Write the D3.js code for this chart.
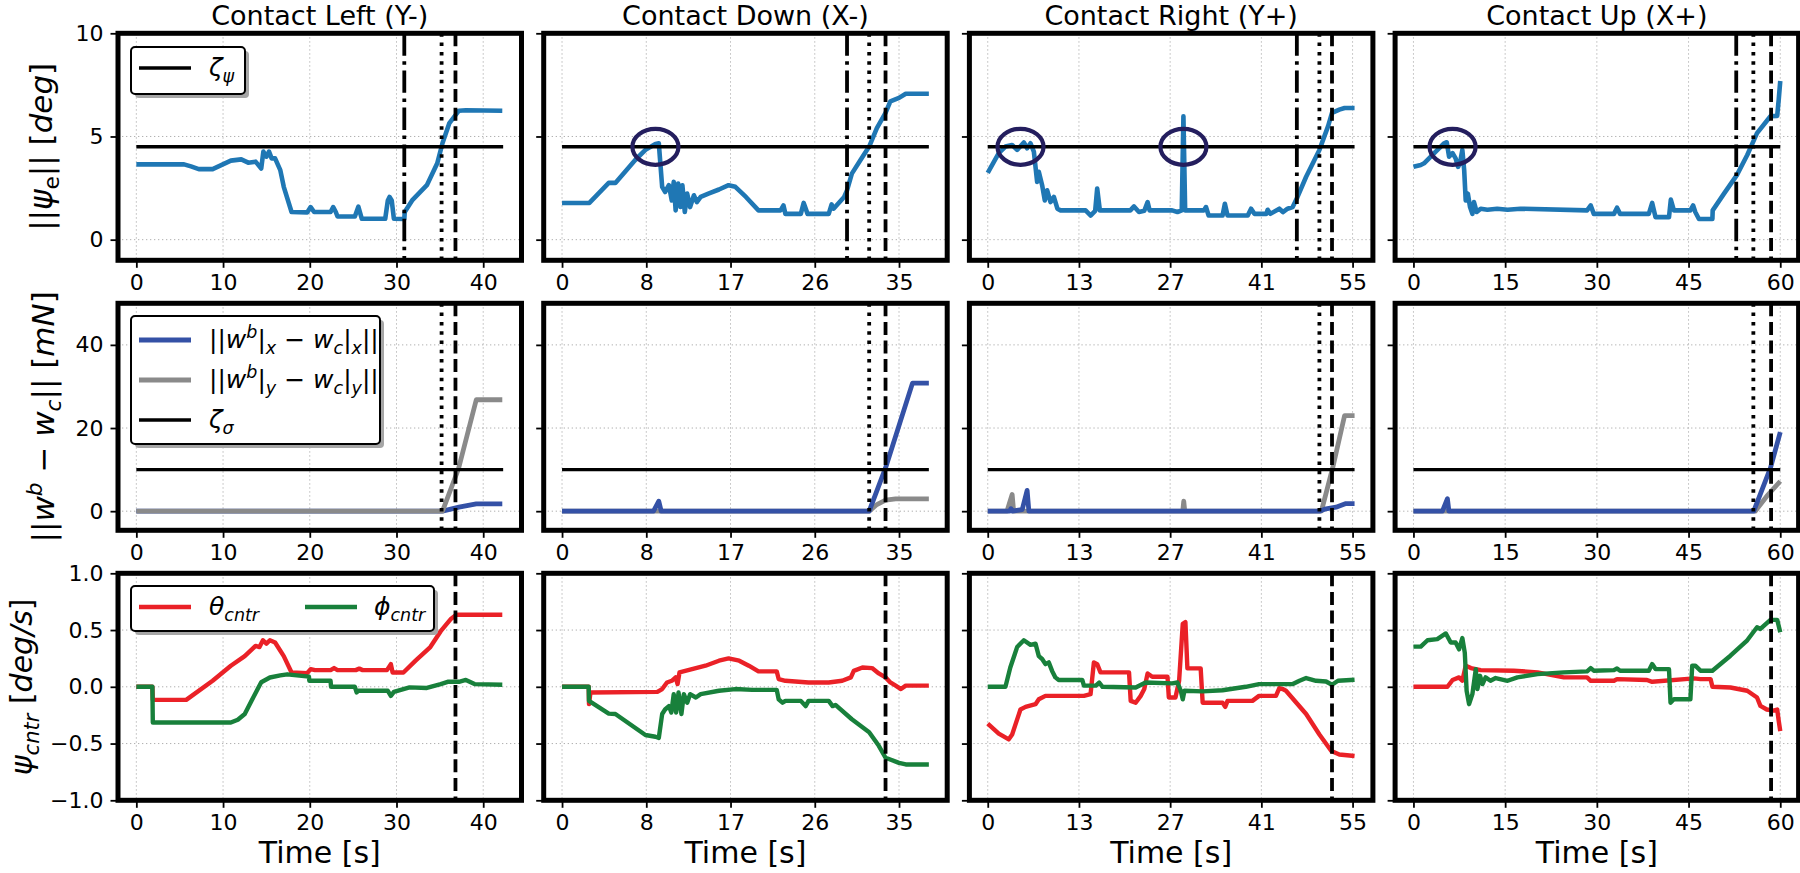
<!DOCTYPE html>
<html><head><meta charset="utf-8">
<script src="https://cdnjs.cloudflare.com/ajax/libs/d3/7.8.5/d3.min.js"></script>
<style>body{margin:0;background:#fff}svg{display:block}text{font-family:'DejaVu Sans',sans-serif}</style>
</head><body><svg id="c" width="1800" height="873"></svg>
<script>
// ---------------- DATA ----------------
const titles = ["Contact Left (Y-)", "Contact Down (X-)", "Contact Right (Y+)", "Contact Up (X+)"];
const tEnd = [42.3, 38.1, 55.3, 60];
const xTickVals = [[0,10,20,30,40],[0,8.75,17.5,26.25,35],[0,13.75,27.5,41.25,55],[0,15,30,45,60]];
const row1Ticks = [0,5,10], row2Ticks = [0,20,40], row3Ticks = [-1,-0.5,0,0.5,1];
const evDashDot = [30.9, 29.6, 46.6, 52.8];
const evDotted  = [35.2, 31.9, 50.0, 55.6];
const evDashed  = [36.8, 33.6, 51.9, 58.5];
const zetaPsi = 4.5, zetaSigma = 10;
const circleMarks = [[], [[9.7,4.5]], [[4.94,4.5],[29.5,4.5]], [[6.4,4.5]]];

// ||psi_e|| [deg]
const psiLeft = [[0,3.65],[5.5,3.65],[6.3,3.55],[7.2,3.42],[8.8,3.42],[10.9,3.83],[12.1,3.89],[12.9,3.73],[13.75,3.78],[14.4,3.45],[14.65,4.27],[15.0,4.02],[15.3,4.27],[15.6,3.94],[16.0,3.94],[16.6,3.37],[17.0,2.56],[17.9,1.34],[19.7,1.32],[20.1,1.58],[20.5,1.34],[22.4,1.34],[22.7,1.58],[23.0,1.34],[23.2,1.12],[25.2,1.12],[25.6,1.6],[26.0,1.01],[28.7,1.01],[29.0,1.9],[29.2,2.07],[29.45,1.9],[29.7,1.01],[30.9,1.0],[30.95,1.34],[31.8,1.9],[33.5,2.64],[34.7,3.7],[35.3,4.67],[36.1,5.65],[37.2,6.25],[38,6.27],[42.2,6.25]];
const psiDown = [[0,1.78],[2.84,1.78],[4.85,2.75],[5.54,2.75],[7.6,3.86],[8.66,4.35],[9.7,4.64],[10.05,4.67],[10.4,2.56],[10.7,2.31],[11.1,2.64],[11.4,1.9],[11.6,2.8],[11.8,1.42],[12.06,2.72],[12.3,1.58],[12.5,2.64],[12.75,1.34],[13.0,2.23],[13.3,1.58],[13.7,2.15],[14.0,1.82],[14.4,2.07],[15.2,2.23],[16.3,2.43],[17.3,2.64],[18.0,2.56],[19.1,2.07],[20.4,1.42],[22.7,1.42],[23.0,1.66],[23.2,1.25],[24.8,1.25],[25.1,1.78],[25.5,1.25],[27.7,1.25],[28.0,1.71],[28.2,1.5],[29.3,2.07],[29.6,2.39],[30.1,3.2],[31.0,3.86],[31.9,4.51],[32.7,5.4],[33.6,6.14],[34.1,6.7],[35.0,6.87],[35.7,7.07],[38.1,7.07]];
const psiRight = [[0,3.24],[1.66,4.19],[2.67,4.51],[3.67,4.59],[4.43,4.35],[5.44,4.71],[5.94,4.43],[6.45,4.67],[6.95,4.27],[7.45,2.8],[7.7,3.29],[8.2,2.64],[8.6,1.9],[8.96,2.39],[9.47,1.82],[9.97,2.07],[10.5,1.5],[10.98,1.42],[14.75,1.42],[15.5,1.17],[16.2,1.4],[16.5,2.48],[16.9,1.42],[21.5,1.42],[22.05,1.61],[22.8,1.34],[23.6,1.4],[24.1,1.82],[24.4,1.42],[27.8,1.42],[28.6,1.34],[29.25,1.42],[29.5,5.98],[29.76,1.42],[32.6,1.42],[32.9,1.58],[33.3,1.17],[35.4,1.17],[35.75,1.74],[36.15,1.17],[39.2,1.17],[39.7,1.5],[40.2,1.25],[42.0,1.25],[42.2,1.45],[42.6,1.25],[43.96,1.5],[44.5,1.34],[45.2,1.5],[45.97,1.58],[46.7,2.07],[48.0,3.05],[50.0,4.35],[51.3,5.49],[51.9,6.14],[53.0,6.3],[53.8,6.38],[55.3,6.38]];
const psiUp = [[0,3.53],[1.2,3.62],[1.74,3.7],[3.4,4.19],[5.0,4.67],[5.45,4.72],[5.83,4.02],[6.4,4.19],[6.9,3.94],[7.3,3.53],[7.6,3.7],[8.0,4.35],[8.3,3.37],[8.55,1.9],[8.9,2.23],[9.26,1.58],[9.64,1.25],[9.9,1.82],[10.35,1.34],[11.0,1.5],[12.1,1.45],[13.7,1.5],[15.4,1.45],[17.5,1.5],[28.4,1.42],[29.0,1.66],[29.5,1.25],[32.8,1.25],[33.3,1.55],[33.8,1.25],[38.5,1.25],[39.05,1.78],[39.6,1.09],[41.8,1.09],[42.1,1.94],[42.6,1.42],[45.3,1.42],[45.75,1.66],[46.1,1.34],[46.7,1.0],[48.9,1.0],[48.95,1.42],[50.8,2.23],[52.9,3.13],[54.6,4.1],[56.2,5.16],[58.4,5.98],[59.5,6.0],[59.75,6.79],[60.0,7.69]];

// ||w^b - w_c|| [mN]
const wxLeft  = [[0,0],[35.3,0],[37.2,0.96],[39.2,1.76],[42.2,1.76]];
const wyLeft  = [[0,0],[35.3,0],[37.15,10.2],[39.2,26.8],[42.2,26.8]];
const wxDown  = [[0,0],[9.5,0],[10.05,2.4],[10.3,0],[31.9,0],[33.6,10.4],[36.4,30.8],[38.1,30.8]];
const wyDown  = [[0,0],[31.9,0],[32.7,1.6],[33.6,2.64],[34.65,2.96],[38.1,2.96]];
const wxRight = [[0,0],[3.3,0],[3.5,0.6],[3.7,0],[5.2,0.4],[5.94,5.0],[6.2,0],[50.0,0],[51.0,0.56],[52.5,0.96],[54.0,1.84],[55.3,1.84]];
const wyRight = [[0,0],[2.9,0],[3.68,4.0],[3.9,0],[29.4,0],[29.55,2.4],[29.7,0],[50.3,0],[52.0,10.4],[53.8,23.0],[55.3,23.0]];
const wxUp    = [[0,0],[4.74,0],[5.56,3.0],[5.8,0],[55.66,0],[58.4,10.4],[60.0,19.0]];
const wyUp    = [[0,0],[55.9,0],[57.8,3.6],[60.0,7.2]];

// psi_cntr [deg/s]
const thLeft = [[0,0],[1.85,0],[1.9,-0.115],[5.75,-0.115],[8.8,0.053],[10.9,0.185],[12.5,0.27],[13.75,0.36],[14.2,0.35],[14.6,0.41],[15.0,0.38],[15.4,0.41],[16.0,0.39],[17.0,0.27],[17.9,0.126],[19.7,0.12],[20.1,0.156],[20.6,0.147],[22.4,0.147],[22.8,0.165],[23.2,0.147],[25.3,0.147],[25.7,0.16],[26.1,0.147],[28.9,0.147],[29.35,0.2],[29.55,0.126],[30.8,0.126],[32.2,0.23],[33.9,0.35],[35.1,0.49],[36.3,0.6],[36.9,0.635],[42.2,0.635]];
const phLeft = [[0,0],[1.85,0],[1.9,-0.315],[10.9,-0.315],[11.7,-0.29],[12.5,-0.24],[13.3,-0.12],[14.4,0.04],[15.4,0.082],[16.6,0.1],[17.4,0.11],[19.9,0.09],[19.95,0.053],[22.4,0.053],[22.45,0],[25.2,0],[25.4,-0.05],[25.6,-0.035],[29.0,-0.035],[29.35,-0.08],[29.7,-0.045],[30.8,-0.02],[31.5,-0.005],[33.5,-0.01],[35.1,0.024],[35.9,0.044],[37.2,0.044],[38.0,0.06],[39.0,0.024],[42.2,0.018]];
const thDown = [[0,0],[2.77,0],[2.8,-0.153],[2.95,-0.05],[9.9,-0.045],[10.4,-0.02],[10.9,0.038],[11.4,0.053],[11.8,0.083],[12.0,0.024],[12.2,0.127],[12.8,0.14],[13.9,0.165],[14.9,0.186],[16.3,0.23],[17.3,0.25],[18.4,0.23],[19.4,0.186],[20.4,0.136],[22.3,0.136],[22.5,0.068],[23.2,0.053],[25.6,0.038],[27.7,0.038],[29.1,0.053],[30.0,0.083],[30.3,0.14],[31.2,0.17],[32.2,0.165],[32.9,0.118],[33.6,0.083],[34.1,0.038],[34.65,0.01],[35.2,-0.02],[35.7,0.01],[38.1,0.01]];
const phDown = [[0,0],[2.77,0],[2.8,-0.124],[4.85,-0.236],[5.54,-0.24],[8.66,-0.425],[9.7,-0.44],[10.05,-0.45],[10.4,-0.24],[10.7,-0.2],[11.1,-0.17],[11.35,-0.227],[11.6,-0.065],[11.85,-0.227],[12.1,-0.05],[12.4,-0.24],[12.65,-0.065],[13.0,-0.14],[13.3,-0.065],[13.9,-0.094],[14.4,-0.065],[16.3,-0.035],[18.0,-0.02],[19.75,-0.027],[22.3,-0.027],[22.5,-0.11],[22.9,-0.14],[23.2,-0.124],[24.8,-0.124],[25.3,-0.17],[25.6,-0.124],[27.7,-0.124],[28.1,-0.17],[28.4,-0.16],[30.1,-0.286],[31.9,-0.4],[32.9,-0.52],[33.6,-0.625],[35.0,-0.67],[35.7,-0.684],[38.1,-0.684]];
const thRight = [[0,-0.325],[1.66,-0.413],[3.17,-0.463],[3.68,-0.42],[4.93,-0.2],[5.7,-0.177],[7.2,-0.153],[7.7,-0.11],[8.7,-0.08],[14.5,-0.08],[15.5,-0.065],[16.0,0.215],[16.5,0.2],[17.0,0.127],[21.3,0.127],[21.55,-0.124],[22.3,-0.14],[23.06,-0.08],[23.6,-0.02],[24.1,0.118],[24.8,0.088],[27.1,0.088],[27.3,-0.094],[28.3,-0.094],[28.85,0.053],[29.4,0.555],[29.8,0.57],[30.1,0.162],[32.1,0.162],[32.4,-0.14],[35.4,-0.14],[35.8,-0.177],[36.15,-0.124],[39.9,-0.124],[40.9,-0.08],[43.45,-0.08],[43.96,-0.012],[44.46,-0.02],[44.96,-0.035],[48.0,-0.24],[50.0,-0.42],[51.8,-0.566],[53.0,-0.596],[55.3,-0.61]];
const phRight = [[0,0],[2.67,0],[3.4,0.17],[4.43,0.35],[5.44,0.41],[6.45,0.37],[7.2,0.38],[7.7,0.27],[8.2,0.245],[8.7,0.2],[9.2,0.215],[9.7,0.14],[10.2,0.083],[10.7,0.06],[14.25,0.06],[14.5,0.01],[16.3,0.01],[16.8,0.038],[17.3,0],[22.3,-0.006],[23.8,0.038],[27.8,0.03],[28.6,0.038],[29.1,-0.035],[29.4,-0.11],[29.65,-0.035],[32.4,-0.04],[35.4,-0.03],[38.9,0],[40.9,0.024],[46.0,0.024],[47.0,0.053],[48.0,0.077],[49.5,0.053],[51.0,0.047],[51.9,0.018],[52.8,0.053],[55.3,0.062]];
const thUp = [[0,0],[5.56,0],[6.4,0.06],[7.46,0.083],[8.0,0.053],[8.55,0.186],[9.4,0.165],[11.0,0.147],[16.4,0.142],[20.3,0.127],[24.6,0.083],[28.4,0.083],[29.0,0.053],[32.8,0.053],[33.3,0.068],[38.2,0.06],[39.05,0.044],[45.9,0.074],[46.95,0.068],[48.6,0.068],[48.9,0],[51.85,-0.006],[54.6,-0.035],[56.2,-0.094],[56.75,-0.168],[57.8,-0.2],[58.9,-0.21],[59.5,-0.2],[59.75,-0.3],[60.0,-0.39]];
const phUp = [[0,0.354],[1.2,0.354],[2.3,0.41],[3.9,0.42],[5.3,0.47],[6.1,0.39],[6.9,0.39],[7.46,0.33],[8.0,0.43],[8.4,0.3],[8.7,-0.035],[9.1,-0.153],[9.64,-0.065],[10.2,0.156],[10.46,-0.02],[10.9,0.097],[11.3,0.024],[11.8,0.083],[12.6,0.053],[13.45,0.077],[15.4,0.053],[17.0,0.083],[20.3,0.112],[24.6,0.127],[28.4,0.136],[29.0,0.165],[29.5,0.142],[32.8,0.147],[33.3,0.162],[33.8,0.142],[38.5,0.142],[39.05,0.2],[39.6,0.156],[41.8,0.156],[42.05,-0.14],[42.6,-0.11],[45.3,-0.11],[45.6,0.186],[46.1,0.186],[46.95,0.142],[48.9,0.142],[51.85,0.274],[54.6,0.41],[56.2,0.525],[56.75,0.51],[58.4,0.59],[59.5,0.59],[60.0,0.48]];

const psiSeries = [psiLeft, psiDown, psiRight, psiUp];
const wxSeries = [wxLeft, wxDown, wxRight, wxUp];
const wySeries = [wyLeft, wyDown, wyRight, wyUp];
const thSeries = [thLeft, thDown, thRight, thUp];
const phSeries = [phLeft, phDown, phRight, phUp];

// ---------------- STYLE / LAYOUT ----------------
const C = {psi:'#1f77b4', wx:'#3451a6', wy:'#8a8a8a', th:'#ea2127', ph:'#18803b', circ:'#241e5e', grid:'#b0b0b0'};
const L0 = 118, STEP = 425.7, PW = 403.5, PH = 227, TOPS = [33.3, 303.3, 573.3];
const ylims = [[-1,10],[-4.6,50],[-1,1]];
const yTickSets = [row1Ticks, row2Ticks, row3Ticks];
const yFmt = [d3.format('d'), d3.format('d'), d3.format('.1f')];
const FONT = "'DejaVu Sans', sans-serif";

const svg = d3.select('#c');

function rich(t, parts, size) {
  let shift = 0;
  parts.forEach(([s, st]) => {
    const sub = st.startsWith('sub'), sup = st.startsWith('sup');
    const target = sub ? size*0.22 : sup ? -size*0.4 : 0;
    const ts = t.append('tspan').text(s)
      .attr('font-style', st.endsWith('i') ? 'italic' : 'normal')
      .attr('font-size', (sub||sup) ? size*0.7 : size);
    if (target !== shift) { ts.attr('dy', target - shift); shift = target; }
  });
}

function line(g, data, xs, ys, color, w, dash) {
  const p = g.append('path').datum(data)
    .attr('d', d3.line().x(d=>xs(d[0])).y(d=>ys(d[1])))
    .attr('fill','none').attr('stroke',color).attr('stroke-width',w)
    .attr('stroke-linejoin','round').attr('stroke-linecap','butt');
  if (dash) p.attr('stroke-dasharray', dash);
  return p;
}
function vlines(g, vals, xs, y0, color, w, dash) {
  g.selectAll(null).data(vals).join('line')
    .attr('x1', d=>xs(d)).attr('x2', d=>xs(d)).attr('y1', y0).attr('y2', y0+PH)
    .attr('stroke', color).attr('stroke-width', w).attr('stroke-dasharray', dash);
}

for (let c = 0; c < 4; c++) {
  const x0 = L0 + c*STEP;
  const xs = d3.scaleLinear().domain([-0.05*tEnd[c], 1.05*tEnd[c]]).range([x0, x0+PW]);
  svg.append('text').attr('x', x0+PW/2).attr('y', 25).attr('text-anchor','middle')
    .attr('font-size', 27).attr('font-family', FONT).text(titles[c]);
  for (let r = 0; r < 3; r++) {
    const y0 = TOPS[r];
    const ys = d3.scaleLinear().domain(ylims[r]).range([y0+PH, y0]);
    const g = svg.append('g');
    // grid
    g.selectAll(null).data(xTickVals[c]).join('line')
      .attr('x1', d=>xs(d)).attr('x2', d=>xs(d)).attr('y1', y0).attr('y2', y0+PH)
      .attr('stroke', C.grid).attr('stroke-width', 1).attr('stroke-dasharray','1.3,2.7');
    g.selectAll(null).data(yTickSets[r]).join('line')
      .attr('x1', x0).attr('x2', x0+PW).attr('y1', d=>ys(d)).attr('y2', d=>ys(d))
      .attr('stroke', C.grid).attr('stroke-width', 1).attr('stroke-dasharray','1.3,2.7');
    const te = tEnd[c];
    if (r === 0) {
      line(g, psiSeries[c], xs, ys, C.psi, 4.6);
      line(g, [[0,zetaPsi],[te,zetaPsi]], xs, ys, '#000', 3.4);
      vlines(g, [evDashDot[c]], xs, y0, '#000', 3.8, '22.4,5.6,3.5,5.6');
      vlines(g, [evDotted[c]], xs, y0, '#000', 3.8, '3.5,5.8');
      vlines(g, [evDashed[c]], xs, y0, '#000', 3.8, '13,5.6');
      g.selectAll('ellipse').data(circleMarks[c]).join('ellipse')
        .attr('cx', d=>xs(d[0])).attr('cy', d=>ys(d[1])).attr('rx', 23).attr('ry', 18)
        .attr('fill','none').attr('stroke', C.circ).attr('stroke-width', 4.2);
    } else if (r === 1) {
      if (c === 0) { line(g, wxSeries[c], xs, ys, C.wx, 4.8); line(g, wySeries[c], xs, ys, C.wy, 4.8); }
      else { line(g, wySeries[c], xs, ys, C.wy, 4.8); line(g, wxSeries[c], xs, ys, C.wx, 4.8); }
      line(g, [[0,zetaSigma],[te,zetaSigma]], xs, ys, '#000', 3.4);
      vlines(g, [evDotted[c]], xs, y0, '#000', 3.8, '3.5,5.8');
      vlines(g, [evDashed[c]], xs, y0, '#000', 3.8, '13,5.6');
    } else {
      line(g, thSeries[c], xs, ys, C.th, 4.4);
      line(g, phSeries[c], xs, ys, C.ph, 4.4);
      vlines(g, [evDashed[c]], xs, y0, '#000', 3.8, '13,5.6');
    }
    // frame
    g.append('rect').attr('x', x0).attr('y', y0).attr('width', PW).attr('height', PH)
      .attr('fill','none').attr('stroke','#000').attr('stroke-width', 5);
    // axes
    const ax = g.append('g').attr('transform', `translate(0,${y0+PH})`)
      .call(d3.axisBottom(xs).tickValues(xTickVals[c]).tickFormat(d=>Math.floor(d)).tickSize(7.5).tickPadding(7));
    ax.attr('font-size', 22).attr('font-family', FONT);
    ax.select('.domain').remove();
    ax.selectAll('line').attr('stroke-width', 1.8);
    const ay = g.append('g').attr('transform', `translate(${x0},0)`)
      .call(d3.axisLeft(ys).tickValues(yTickSets[r]).tickFormat(c === 0 ? yFmt[r] : '').tickSize(7.5).tickPadding(7));
    ay.attr('font-size', 22).attr('font-family', FONT);
    ay.select('.domain').remove();
    ay.selectAll('line').attr('stroke-width', 1.8);
    if (r === 2) {
      svg.append('text').attr('x', x0+PW/2).attr('y', 863).attr('text-anchor','middle')
        .attr('font-size', 30).attr('font-family', FONT).text('Time [s]');
    }
  }
}

// y labels
const ylabParts = [
  [['||','r'],['ψ','i'],['e','sub-r'],['||','r'],[' [','r'],['deg','i'],[']','r']],
  [['||','r'],['w','i'],['b','sup-i'],[' − ','r'],['w','i'],['c','sub-i'],['||','r'],[' [','r'],['mN','i'],[']','r']],
  [['ψ','i'],['cntr','sub-i'],[' [','r'],['deg/s','i'],[']','r']]
];
const ylabX = [52, 54, 32];
const ylabSize = [31, 31, 30];
ylabParts.forEach((p, r) => {
  const cy = TOPS[r] + PH/2;
  const t = svg.append('text').attr('transform', `translate(${ylabX[r]},${cy}) rotate(-90)`)
    .attr('text-anchor','middle').attr('font-family', FONT);
  rich(t, p, ylabSize[r]);
});

// legends
function legend(x, y, w, h, entries) {
  const g = svg.append('g');
  g.append('rect').attr('x', x+4).attr('y', y+4).attr('width', w).attr('height', h).attr('rx', 4)
    .attr('fill', '#a6a6a6');
  g.append('rect').attr('x', x).attr('y', y).attr('width', w).attr('height', h).attr('rx', 4)
    .attr('fill', '#fff').attr('stroke', '#000').attr('stroke-width', 2);
  entries.forEach(e => {
    g.append('line').attr('x1', x+e.hx).attr('x2', x+e.hx+52).attr('y1', y+e.y).attr('y2', y+e.y)
      .attr('stroke', e.color).attr('stroke-width', e.w);
    const t = g.append('text').attr('x', x+e.tx).attr('y', y+e.y+8).attr('font-family', FONT);
    rich(t, e.parts, 25);
  });
}
legend(L0+13, TOPS[0]+13.7, 114, 47, [
  {hx:8, tx:78, y:21, color:'#000', w:3.4, parts:[['ζ','i'],['ψ','sub-i']]}
]);
legend(L0+13, TOPS[1]+12.7, 249, 128, [
  {hx:8, tx:78, y:24, color:C.wx, w:4.8, parts:[['||','r'],['w','i'],['b','sup-i'],['|','r'],['x','sub-i'],[' − ','r'],['w','i'],['c','sub-i'],['|','r'],['x','sub-i'],['||','r']]},
  {hx:8, tx:78, y:64, color:C.wy, w:4.8, parts:[['||','r'],['w','i'],['b','sup-i'],['|','r'],['y','sub-i'],[' − ','r'],['w','i'],['c','sub-i'],['|','r'],['y','sub-i'],['||','r']]},
  {hx:8, tx:78, y:104, color:'#000', w:3.4, parts:[['ζ','i'],['σ','sub-i']]}
]);
legend(L0+13, TOPS[2]+12.7, 303, 45, [
  {hx:8, tx:78, y:21, color:C.th, w:4.4, parts:[['θ','i'],['cntr','sub-i']]},
  {hx:174, tx:243, y:21, color:C.ph, w:4.4, parts:[['ϕ','i'],['cntr','sub-i']]}
]);
</script></body></html>
